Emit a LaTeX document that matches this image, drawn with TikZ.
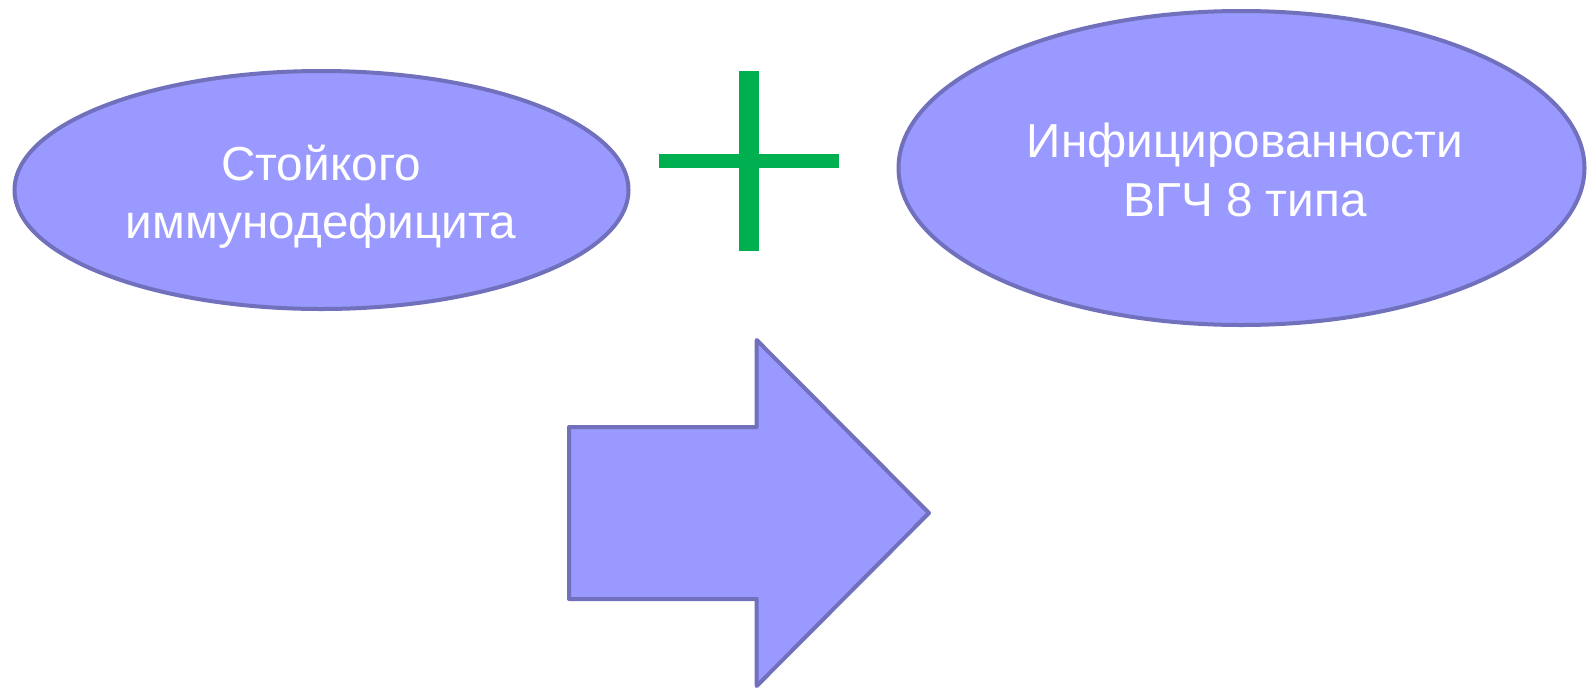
\documentclass[tikz,border=0pt]{standalone}
\usepackage{fontspec}
\setmainfont{Liberation Sans}
\usetikzlibrary{shapes.geometric}
\definecolor{shapefill}{HTML}{9999FF}
\definecolor{shapeline}{HTML}{7070BC}
\definecolor{plusgreen}{HTML}{00B050}
\tikzset{
  blob/.style={ellipse, fill=shapefill, draw=shapeline, line width=4pt, inner sep=0pt},
  caption/.style={text=white, align=center, font=\fontsize{47.7}{58.5}\selectfont, inner sep=0pt},
  bigarrow/.style={fill=shapefill, draw=shapeline, line width=4pt, line join=round},
  plusbar/.style={fill=plusgreen, draw=none}
}
\begin{document}
\begin{tikzpicture}[x=1pt, y=-1pt]
  \useasboundingbox (0,0) rectangle (1588,689);
  % two ellipses
  \node[blob, minimum width=614pt, minimum height=238pt] (left) at (321.5,190) {};
  \node[blob, minimum width=686pt, minimum height=314pt] (right) at (1241.5,168) {};
  \node[caption] (lefttext) at (321,196.5) {Стойкого\\иммунодефицита};
  \node[caption] (righttext) at (1245,170) {Инфицированности\\ВГЧ 8 типа};
  % green plus sign
  \fill[plusbar] (739.3,71) rectangle (758.7,250.7);
  \fill[plusbar] (659,154) rectangle (839,167.7);
  % block arrow
  \coordinate (a1) at (569,427);
  \coordinate (a2) at (756.7,427);
  \coordinate (a3) at (756.7,340);
  \coordinate (tip) at (929,513);
  \coordinate (a5) at (756.7,686);
  \coordinate (a6) at (756.7,599);
  \coordinate (a7) at (569,599);
  \draw[bigarrow] (a1) -- (a2) -- (a3) -- (tip) -- (a5) -- (a6) -- (a7) -- cycle;
\end{tikzpicture}
\end{document}
